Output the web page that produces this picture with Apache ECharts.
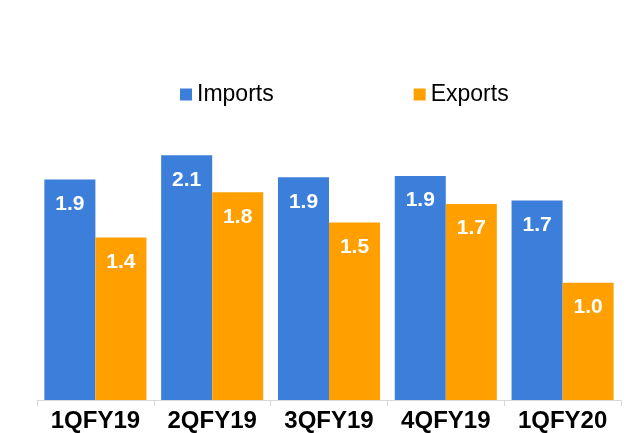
<!DOCTYPE html>
<html lang="en" style="height: 100%">
<head>
    <meta charset="utf-8">
    <title>Imports vs Exports</title>
    <script src="https://cdn.jsdelivr.net/npm/echarts@6/dist/echarts.min.js"></script>
</head>
<body style="height: 100%; margin: 0; background: #fff">
<div id="container" style="width: 641px; height: 433px"></div>
<script type="text/javascript">
    // values (labels show one decimal)
    var quarters = ['1QFY19', '2QFY19', '3QFY19', '4QFY19', '1QFY20'];
    var imports = [1.90, 2.11, 1.92, 1.93, 1.72];
    var exports = [1.40, 1.79, 1.53, 1.69, 1.01];

    var blue = '#3c7fdb';
    var orange = '#ffa000';

    var dom = document.getElementById('container');
    var myChart = echarts.init(dom, null, {renderer: 'canvas'});

    var barLabel = {
        show: true,
        position: 'insideTop',
        distance: 14,
        color: '#fff',
        fontFamily: 'Liberation Sans',
        fontWeight: 'bold',
        fontSize: 21,
        formatter: function (p) {
            return p.value.toFixed(1);
        }
    };

    var option = {
        animation: false,
        legend: {
            left: 175,
            top: 78,
            itemWidth: 12,
            itemHeight: 12,
            itemGap: 140,
            icon: 'rect',
            textStyle: {
                fontFamily: 'Liberation Sans',
                fontSize: 23,
                color: '#000'
            },
            data: ['Imports', 'Exports']
        },
        grid: {
            left: 37,
            right: 20,
            top: 110,
            bottom: 33
        },
        xAxis: {
            type: 'category',
            data: quarters,
            axisLine: {lineStyle: {color: '#d9d9d9', width: 1}},
            axisTick: {show: true, length: 6, lineStyle: {color: '#d9d9d9'}},
            axisLabel: {
                margin: 9,
                color: '#000',
                fontFamily: 'Liberation Sans',
                fontWeight: 'bold',
                fontSize: 24
            }
        },
        yAxis: {
            type: 'value',
            min: 0,
            max: 2.5,
            show: false,
            splitLine: {show: false}
        },
        series: [
            {
                name: 'Imports',
                type: 'bar',
                data: imports,
                barGap: '0%',
                barCategoryGap: '12.6%',
                itemStyle: {color: blue},
                label: barLabel
            },
            {
                name: 'Exports',
                type: 'bar',
                data: exports,
                barGap: '0%',
                barCategoryGap: '12.6%',
                itemStyle: {color: orange},
                label: barLabel
            }
        ]
    };

    myChart.setOption(option);
    window.addEventListener('resize', myChart.resize);
</script>
</body>
</html>
